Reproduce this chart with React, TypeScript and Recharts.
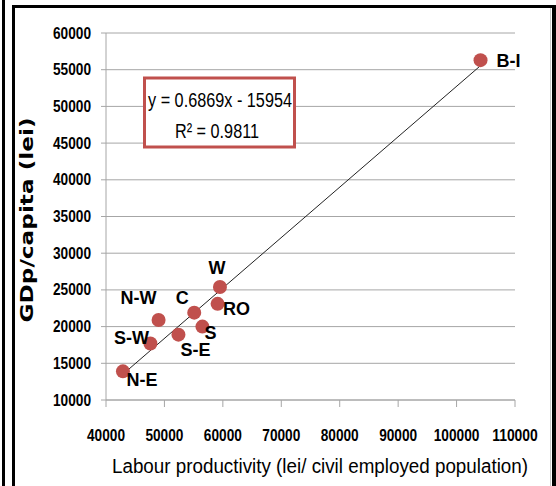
import React from 'react';
import {
  ScatterChart,
  Scatter,
  XAxis,
  YAxis,
  CartesianGrid,
  ReferenceLine,
} from 'recharts';

// Regions of Romania: labour productivity vs GDP per capita
const regions = ['B-I', 'W', 'RO', 'C', 'S', 'S-E', 'N-W', 'S-W', 'N-E'];
const productivity = [104100, 59500, 59100, 55100, 56500, 52400, 49000, 47600, 42900];
const gdpPerCapita = [56300, 25400, 23100, 21900, 20000, 18900, 20900, 17700, 13900];

const xTicks = [40000, 50000, 60000, 70000, 80000, 90000, 100000, 110000];
const yTicks = [10000, 15000, 20000, 25000, 30000, 35000, 40000, 45000, 50000, 55000, 60000];

// linear trend shown on the chart
const slope = 0.6869;
const intercept = -15954;
const rSquared = 0.9811;

const SANS = "'Liberation Sans', Arial, sans-serif";
const POINT_COLOR = '#c0504d';
const GRID_COLOR = '#a6a6a6';
const DIGIT_W = 7.6;

// where each region name sits relative to its marker (dx, dy, anchor)
const labelPlacement: Record<string, [number, number, string]> = {
  'B-I': [16, 1, 'start'],
  W: [-3, -19, 'middle'],
  RO: [19, 5, 'middle'],
  C: [-12, -15, 'middle'],
  S: [8, 6, 'middle'],
  'S-E': [17, 15, 'middle'],
  'N-W': [-20, -22, 'middle'],
  'S-W': [-19, -5, 'middle'],
  'N-E': [19, 9, 'middle'],
};

const points = regions.map((name, i) => ({
  name,
  x: productivity[i],
  y: gdpPerCapita[i],
}));

const xMin = Math.min(...productivity);
const xMax = Math.max(...productivity);
const trendSegment = [
  { x: xMin, y: slope * xMin + intercept },
  { x: xMax, y: slope * xMax + intercept },
];

const PointWithLabel = (props: any) => {
  const { cx, cy, payload } = props;
  const [dx, dy, anchor] = labelPlacement[payload.name] || [0, -15, 'middle'];
  return (
    <g>
      <circle cx={cx} cy={cy} r={7} fill={POINT_COLOR} />
      <text
        x={cx + dx}
        y={cy + dy}
        textAnchor={anchor as any}
        dominantBaseline="central"
        fontFamily={SANS}
        fontWeight="bold"
        fontSize={18}
        fill="#000"
      >
        {payload.name}
      </text>
    </g>
  );
};

const XTick = (props: any) => {
  const { x, y, payload } = props;
  const label = String(payload.value);
  return (
    <text
      x={x}
      y={y + 6}
      textAnchor="middle"
      dominantBaseline="central"
      fontFamily={SANS}
      fontWeight="bold"
      fontSize={16}
      fill="#000"
      textLength={label.length * DIGIT_W}
      lengthAdjust="spacingAndGlyphs"
    >
      {label}
    </text>
  );
};

const YTick = (props: any) => {
  const { x, y, payload } = props;
  const label = String(payload.value);
  return (
    <text
      x={x}
      y={y}
      textAnchor="end"
      dominantBaseline="central"
      fontFamily={SANS}
      fontWeight="bold"
      fontSize={16}
      fill="#000"
      textLength={label.length * DIGIT_W}
      lengthAdjust="spacingAndGlyphs"
    >
      {label}
    </text>
  );
};

export default function App() {
  return (
    <div style={{ position: 'absolute', left: 0, top: 0, width: 556, height: 486, background: '#fff', overflow: 'hidden' }}>
      {/* frame lines */}
      <div style={{ position: 'absolute', left: 2, top: 0, width: 3, height: 486, background: '#000' }} />
      <div style={{ position: 'absolute', left: 12, top: 5, width: 3, height: 481, background: '#000' }} />
      <div style={{ position: 'absolute', left: 12, top: 5, width: 544, height: 3, background: '#000' }} />
      <div style={{ position: 'absolute', left: 552, top: 5, width: 4, height: 481, background: '#000' }} />
      <div style={{ position: 'absolute', left: 550, top: 8, width: 1, height: 478, background: '#c8c8c8' }} />

      <div style={{ position: 'absolute', left: 0, top: 0 }}>
        <ScatterChart width={556} height={486} margin={{ top: 33, right: 41, bottom: 0, left: 0 }}>
          <CartesianGrid horizontal vertical={false} stroke={GRID_COLOR} />
          <XAxis
            type="number"
            dataKey="x"
            domain={[40000, 110000]}
            ticks={xTicks}
            height={86}
            tickSize={7}
            tickMargin={22}
            axisLine={{ stroke: GRID_COLOR }}
            tickLine={{ stroke: GRID_COLOR }}
            tick={<XTick />}
            interval={0}
          />
          <YAxis
            type="number"
            dataKey="y"
            domain={[10000, 60000]}
            ticks={yTicks}
            width={106}
            tickSize={5}
            tickMargin={10}
            axisLine={{ stroke: GRID_COLOR }}
            tickLine={{ stroke: GRID_COLOR }}
            tick={<YTick />}
            interval={0}
          />
          <ReferenceLine segment={trendSegment} stroke="#222" strokeWidth={1} ifOverflow="visible" />
          <Scatter data={points} shape={PointWithLabel} isAnimationActive={false} />
        </ScatterChart>
      </div>

      <svg width={556} height={486} style={{ position: 'absolute', left: 0, top: 0, pointerEvents: 'none' }}>
        {/* trend equation box */}
        <rect x={144.5} y={78} width={150} height={69} fill="#fff" stroke={POINT_COLOR} strokeWidth={3} />
        <text x={220} y={100} textAnchor="middle" dominantBaseline="central" fontFamily={SANS} fontSize={20} fill="#000" textLength={144} lengthAdjust="spacingAndGlyphs">
          {`y = ${slope}x - ${Math.abs(intercept)}`}
        </text>
        <text x={217} y={131} textAnchor="middle" dominantBaseline="central" fontFamily={SANS} fontSize={20} fill="#000" textLength={84} lengthAdjust="spacingAndGlyphs">
          {`R² = ${rSquared}`}
        </text>

        {/* axis titles */}
        <text
          x={27}
          y={220}
          transform="rotate(-90, 27, 220)"
          textAnchor="middle"
          dominantBaseline="central"
          fontFamily="'DejaVu Sans', sans-serif"
          fontWeight="bold"
          fontSize={17}
          fill="#000"
          textLength={205}
          lengthAdjust="spacingAndGlyphs"
        >
          GDp/capita (lei)
        </text>
        <text
          x={320}
          y={473}
          textAnchor="middle"
          fontFamily={SANS}
          fontSize={20}
          fill="#000"
          textLength={416}
          lengthAdjust="spacingAndGlyphs"
        >
          Labour productivity (lei/ civil employed population)
        </text>
      </svg>
    </div>
  );
}
